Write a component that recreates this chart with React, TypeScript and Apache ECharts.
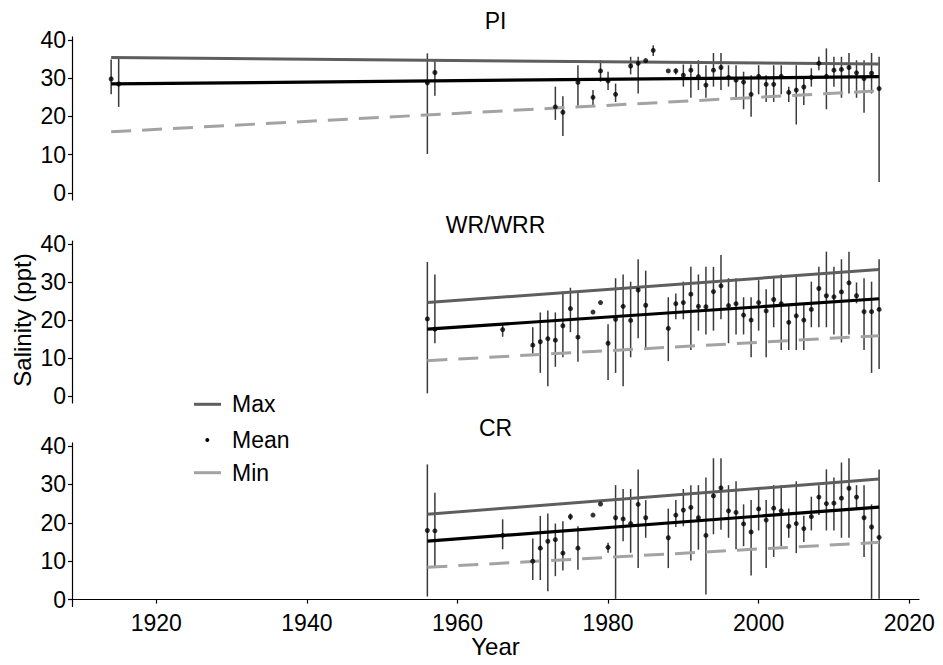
import React, { useEffect, useRef } from "react";
import * as echarts from "echarts";

// ---------- Data ----------
const panelNames = ["PI", "WR/WRR", "CR"];

const piYears = [1914, 1915, 1956, 1957, 1973, 1974, 1976, 1978, 1979, 1980, 1981, 1983, 1984, 1985, 1986, 1988, 1989, 1990, 1991, 1992, 1993, 1994, 1995, 1996, 1997, 1998, 1999, 2000, 2001, 2002, 2003, 2004, 2005, 2006, 2007, 2008, 2009, 2010, 2011, 2012, 2013, 2014, 2015, 2016];
const piMean = [29.8, 28.5, 28.8, 31.5, 22.5, 21.1, 28.9, 25.0, 31.9, 29.3, 25.8, 33.2, 33.9, 34.6, 37.3, 31.9, 31.9, 30.8, 32.1, 30.4, 28.2, 32.1, 32.8, 30.2, 29.5, 29.0, 25.8, 30.5, 28.4, 28.4, 30.5, 26.3, 26.9, 27.7, 30.2, 33.9, 30.5, 32.1, 32.3, 32.8, 31.4, 29.9, 31.3, 27.3];
const piMax = [34.9, 35.2, 36.5, 35.0, 27.8, 25.3, 33.4, 26.9, 34.7, 31.7, 28.6, 35.6, 35.6, 34.6, 38.6, 31.9, 32.6, 33.6, 33.6, 34.7, 33.4, 36.6, 36.6, 33.4, 33.4, 31.7, 30.8, 33.4, 30.8, 33.4, 33.4, 27.8, 33.4, 29.9, 32.6, 35.6, 37.8, 35.6, 35.6, 36.6, 34.7, 34.7, 36.6, 35.6];
const piMin = [25.8, 22.5, 10.2, 25.4, 19.1, 14.9, 22.8, 23.0, 29.1, 26.9, 23.8, 31.0, 26.0, 34.6, 35.8, 31.9, 31.0, 27.8, 24.9, 26.9, 24.9, 27.8, 26.9, 27.8, 24.7, 21.9, 19.9, 25.8, 23.8, 23.8, 25.8, 23.8, 17.9, 23.0, 27.8, 32.1, 21.9, 27.8, 24.9, 26.0, 24.9, 21.0, 26.0, 2.9];

const wrYears = [1956, 1957, 1966, 1970, 1971, 1972, 1973, 1974, 1975, 1976, 1978, 1979, 1980, 1981, 1982, 1983, 1984, 1985, 1988, 1989, 1990, 1991, 1992, 1993, 1994, 1995, 1996, 1997, 1998, 1999, 2000, 2001, 2002, 2003, 2004, 2005, 2006, 2007, 2008, 2009, 2010, 2011, 2012, 2013, 2014, 2015, 2016];
const wrMean = [20.3, 17.6, 17.5, 13.4, 14.3, 15.1, 14.7, 18.5, 23.0, 15.5, 22.1, 24.6, 13.9, 20.2, 23.6, 19.9, 27.9, 23.9, 17.8, 24.3, 24.6, 26.8, 23.6, 23.5, 27.5, 29.0, 23.8, 24.3, 21.3, 20.0, 24.6, 22.4, 25.4, 24.3, 19.4, 21.1, 20.0, 22.8, 28.3, 26.4, 26.1, 27.4, 29.8, 26.4, 22.2, 22.2, 22.8];
const wrMax = [35.3, 32.0, 18.7, 18.1, 22.0, 22.5, 22.0, 27.5, 28.5, 27.2, 22.1, 24.6, 18.9, 31.0, 32.0, 30.1, 36.0, 33.0, 26.0, 27.0, 30.1, 34.0, 32.0, 34.0, 34.0, 37.1, 31.0, 31.0, 26.0, 26.0, 30.5, 28.1, 31.0, 32.0, 23.9, 32.0, 23.9, 30.1, 34.0, 38.0, 34.0, 36.0, 38.0, 29.9, 31.0, 30.1, 36.0];
const wrMin = [0.7, 13.9, 15.6, 11.2, 6.1, 2.6, 7.7, 10.2, 16.8, 9.0, 22.1, 24.6, 4.2, 6.1, 2.6, 10.2, 15.2, 12.3, 9.2, 20.2, 20.2, 12.1, 17.2, 16.2, 17.2, 20.2, 13.9, 16.2, 16.2, 10.2, 17.2, 10.2, 18.1, 12.1, 12.1, 12.1, 12.1, 18.1, 18.1, 18.1, 16.2, 14.1, 16.2, 24.4, 12.1, 6.1, 7.1];

const crYears = wrYears.slice();
const crMean = [18.0, 17.9, 16.7, 10.0, 13.4, 15.2, 15.6, 12.1, 21.6, 13.4, 22.0, 24.9, 13.6, 21.3, 21.0, 19.8, 24.8, 21.3, 16.1, 22.0, 23.3, 24.0, 21.3, 16.7, 27.0, 29.1, 23.1, 22.7, 19.7, 17.6, 23.6, 20.7, 23.8, 23.1, 19.1, 19.8, 18.5, 21.6, 26.7, 25.0, 25.1, 26.4, 29.0, 26.7, 21.3, 18.9, 16.2];
const crMax = [35.2, 27.8, 20.9, 15.9, 21.8, 22.4, 19.8, 20.4, 22.4, 19.1, 22.0, 24.9, 14.8, 29.8, 28.8, 28.8, 33.9, 25.9, 23.7, 25.9, 28.8, 29.8, 29.8, 31.8, 36.8, 36.8, 29.8, 30.8, 24.8, 25.9, 28.8, 25.9, 29.8, 29.8, 23.7, 30.8, 21.8, 26.8, 29.8, 33.9, 31.8, 35.7, 36.8, 29.8, 29.8, 24.8, 33.9];
const crMin = [0.8, 8.6, 13.1, 5.1, 5.1, 2.2, 6.1, 7.6, 20.7, 7.8, 22.0, 24.9, 12.2, 0.2, 15.2, 12.2, 8.2, 16.1, 8.2, 18.9, 19.1, 10.2, 13.0, 1.3, 17.0, 18.2, 16.1, 13.1, 13.9, 6.3, 18.0, 8.2, 11.1, 13.9, 16.1, 12.1, 15.0, 18.0, 22.0, 18.0, 18.0, 16.1, 16.1, 23.7, 11.1, 0.2, 0.2];

// trend lines: [startYear, endYear], values at start and end
const piTrendYears = [1914, 2016];
const piTrendMax = [35.4, 33.7];
const piTrendMean = [28.5, 30.4];
const piTrendMin = [16.0, 26.7];

const wrTrendYears = [1956, 2016];
const wrTrendMax = [24.6, 33.3];
const wrTrendMean = [17.6, 25.6];
const wrTrendMin = [9.3, 15.9];

const crTrendYears = [1956, 2016];
const crTrendMax = [22.2, 31.4];
const crTrendMean = [15.2, 24.1];
const crTrendMin = [8.4, 14.9];

const yTicks = [0, 10, 20, 30, 40];
const xTicks = [1920, 1940, 1960, 1980, 2000, 2020];
const legendLabels = ["Max", "Mean", "Min"];

// ---------- Style ----------
const FONT = "'Liberation Sans', Arial, Helvetica, sans-serif";
const MAX_COLOR = "#5e5e5e";
const MIN_COLOR = "#a3a3a3";
const BAR_COLOR = "#3a3a3a";

const panels = [
  { years: piYears, mean: piMean, max: piMax, min: piMin, tY: piTrendYears, tMax: piTrendMax, tMean: piTrendMean, tMin: piTrendMin, top: 36.9, height: 163.0, titleY: 21 },
  { years: wrYears, mean: wrMean, max: wrMax, min: wrMin, tY: wrTrendYears, tMax: wrTrendMax, tMean: wrTrendMean, tMin: wrTrendMin, top: 241.0, height: 161.9, titleY: 225 },
  { years: crYears, mean: crMean, max: crMax, min: crMin, tY: crTrendYears, tMax: crTrendMax, tMean: crTrendMean, tMin: crTrendMin, top: 442.9, height: 163.6, titleY: 428 },
];

export default function App() {
  const ref = useRef<HTMLDivElement>(null);
  useEffect(() => {
    if (!ref.current) return;
    const chart = echarts.init(ref.current, null, { renderer: "svg" });

    const grids: any[] = [];
    const xAxes: any[] = [];
    const yAxes: any[] = [];
    const series: any[] = [];

    panels.forEach((p, i) => {
      grids.push({ left: 72, right: 24, top: p.top, height: p.height, outerBoundsMode: "none", containLabel: false });
      const isLast = i === panels.length - 1;
      xAxes.push({
        gridIndex: i,
        type: "value",
        min: 1908.8,
        max: 2021.3,
        show: isLast,
        axisLine: { show: true, lineStyle: { color: "#000", width: 1.2 } },
        axisTick: { show: true, length: 4, customValues: xTicks, lineStyle: { color: "#000", width: 1.2 } },
        axisLabel: { customValues: xTicks, fontSize: 23, color: "#000", fontFamily: FONT, margin: 5, formatter: (v: number) => String(v) },
        splitLine: { show: false },
      });
      yAxes.push({
        gridIndex: i,
        type: "value",
        min: -1.8,
        max: 40.8,
        axisLine: { show: true, lineStyle: { color: "#000", width: 1.2 } },
        axisTick: { show: true, length: 4, customValues: yTicks, lineStyle: { color: "#000", width: 1.2 } },
        axisLabel: { customValues: yTicks, fontSize: 23, color: "#000", fontFamily: FONT, margin: 6, formatter: (v: number) => String(v) },
        splitLine: { show: false },
      });

      series.push({
        type: "custom",
        xAxisIndex: i,
        yAxisIndex: i,
        data: p.years.map((y, k) => [y, p.min[k], p.max[k]]),
        encode: { x: 0, y: [1, 2] },
        renderItem: (_params: any, api: any) => {
          const x = api.value(0);
          const a = api.coord([x, api.value(1)]);
          const b = api.coord([x, api.value(2)]);
          return {
            type: "line",
            shape: { x1: a[0], y1: a[1], x2: b[0], y2: b[1] },
            style: { stroke: BAR_COLOR, lineWidth: 1.5 },
          };
        },
        z: 1,
      });

      const trend = (vals: number[], color: string, type: any, width: number, z: number) => ({
        type: "line",
        xAxisIndex: i,
        yAxisIndex: i,
        data: p.tY.map((y, k) => [y, vals[k]]),
        symbol: "none",
        lineStyle: { color, width, type, cap: "butt" },
        z,
        silent: true,
      });
      series.push(trend(p.tMin, MIN_COLOR, [20, 11], 3, 2));
      series.push(trend(p.tMax, MAX_COLOR, "solid", 3, 3));
      series.push(trend(p.tMean, "#000", "solid", 3.2, 4));

      series.push({
        type: "scatter",
        xAxisIndex: i,
        yAxisIndex: i,
        data: p.years.map((y, k) => [y, p.mean[k]]),
        symbol: "circle",
        symbolSize: 5,
        itemStyle: { color: "#000" },
        z: 5,
      });
    });

    const titleStyle = { fontSize: 23, fontFamily: FONT, fill: "#000", align: "center", verticalAlign: "middle" };
    const graphic: any[] = panels.map((p, i) => ({
      type: "text",
      x: 495.5,
      y: p.titleY,
      style: { ...titleStyle, text: panelNames[i] },
    }));
    graphic.push({
      type: "text",
      x: 22.5,
      y: 320,
      rotation: Math.PI / 2,
      style: { ...titleStyle, fontSize: 24, text: "Salinity (ppt)" },
    });
    graphic.push({
      type: "text",
      x: 495.5,
      y: 646,
      style: { ...titleStyle, fontSize: 24, text: "Year" },
    });
    // legend
    const legY = [404.3, 440, 472.7];
    graphic.push({ type: "line", shape: { x1: 194, y1: legY[0], x2: 221, y2: legY[0] }, style: { stroke: MAX_COLOR, lineWidth: 3 } });
    graphic.push({ type: "circle", shape: { cx: 207.3, cy: legY[1], r: 2 }, style: { fill: "#000" } });
    graphic.push({ type: "line", shape: { x1: 194, y1: legY[2], x2: 221, y2: legY[2] }, style: { stroke: MIN_COLOR, lineWidth: 3 } });
    legendLabels.forEach((t, k) => {
      graphic.push({
        type: "text",
        x: 232,
        y: legY[k],
        style: { text: t, fontSize: 23, fontFamily: FONT, fill: "#000", align: "left", verticalAlign: "middle" },
      });
    });

    chart.setOption({
      animation: false,
      backgroundColor: "#fff",
      grid: grids,
      xAxis: xAxes,
      yAxis: yAxes,
      series,
      graphic,
    });
    return () => chart.dispose();
  }, []);
  return <div ref={ref} style={{ position: "fixed", left: 0, top: 0, width: 943, height: 665 }} />;
}
